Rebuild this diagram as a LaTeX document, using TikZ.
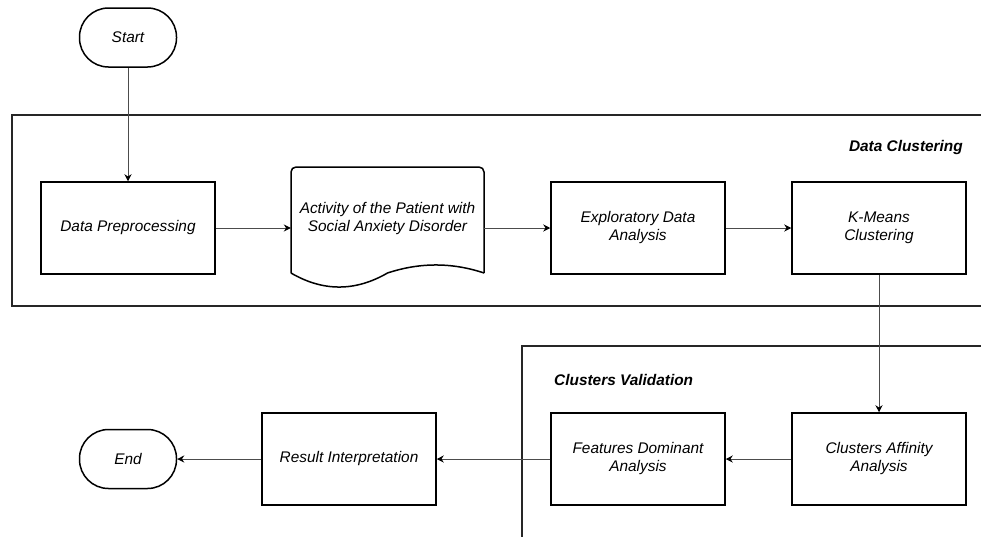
\documentclass[tikz,border=0pt]{standalone}
\usepackage{fontspec}
\setmainfont{Liberation Sans}
\usetikzlibrary{arrows.meta}
\begin{document}
\begin{tikzpicture}[x=1pt,y=-1pt,
  txt/.style={font=\itshape\fontsize{15.4}{18}\selectfont, align=center},
  box/.style={txt, draw=black, line width=1.5pt, minimum width=174pt, minimum height=92pt, inner sep=0pt},
  term/.style={txt, draw=black, line width=1.5pt, rounded corners=29pt, minimum width=97pt, minimum height=59pt, inner sep=0pt},
  frame/.style={draw=black!85, line width=2pt},
  conn/.style={draw=black!70, line width=1pt, -{Stealth[length=7pt,width=7pt,black]}},
  lbl/.style={font=\bfseries\itshape\fontsize{15.4}{18}\selectfont, inner sep=0pt}
]
\clip (0,0) rectangle (981,536);
\fill[white] (0,0) rectangle (981,536);

% frames
\draw[frame] (995,115) -- (12,115) -- (12,306) -- (995,306);
\draw[frame] (995,346) -- (522,346) -- (522,550);
\node[lbl, anchor=east] (dclbl) at (963,148) {Data Clustering};
\node[lbl, anchor=west] (cvlbl) at (554,380) {Clusters Validation};

% nodes
\node[term] (start) at (128,37.5) {Start};
\node[box] (prep) at (128,228) {Data Preprocessing};
\node[minimum width=193pt, minimum height=122pt, inner sep=0pt] (doc) at (387.5,228) {};
\draw[line width=1.5pt, rounded corners=5pt] (291,273) -- (291,167) -- (484,167) -- (484,273);
\draw[line width=1.5pt] (291,273) .. controls (323,291.7) and (355.2,291.7) .. (387.5,273)
   .. controls (419.8,262.3) and (452,262.3) .. (484,273);
\node[txt] (doctext) at (387.5,219) {Activity of the Patient with\\Social Anxiety Disorder};
\node[box] (eda) at (638,228) {Exploratory Data\\Analysis};
\node[box] (km) at (879,228) {K-Means\\Clustering};
\node[box] (ca) at (879,459) {Clusters Affinity\\Analysis};
\node[box] (fda) at (638,459) {Features Dominant\\Analysis};
\node[box] (ri) at (349,459) {Result Interpretation};
\node[term] (end) at (128,459) {End};

% connectors
\draw[conn] (start) -- (prep);
\draw[conn] (prep) -- (doc.west);
\draw[conn] (doc.east) -- (eda);
\draw[conn] (eda) -- (km);
\draw[conn] (km) -- (ca);
\draw[conn] (ca) -- (fda);
\draw[conn] (fda) -- (ri);
\draw[conn] (ri) -- (end);
\end{tikzpicture}
\end{document}
